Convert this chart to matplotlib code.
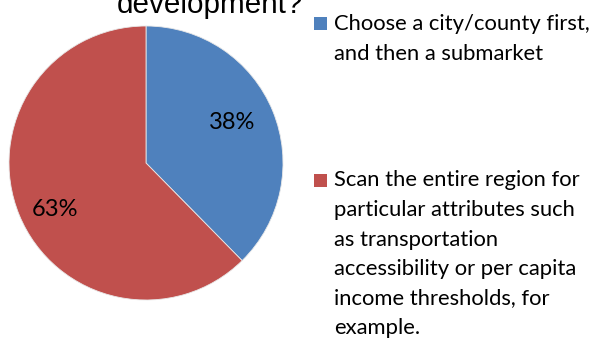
import matplotlib
matplotlib.use("Agg")
import numpy as np
import matplotlib.pyplot as plt
from matplotlib.patches import Rectangle

# Survey answers (percent of respondents)
categories = [
    "Choose a city/county first,\nand then a submarket",
    "Scan the entire region for\nparticular attributes such\nas transportation\naccessibility or per capita\nincome thresholds, for\nexample.",
]
values = [38, 63]
colors = ["#4F81BD", "#C0504D"]
title_text = "development?"

W, H = 595, 343
FONT = ["Lato", "DejaVu Sans"]
TITLE_FONT = ["Liberation Sans", "DejaVu Sans"]

fig = plt.figure(figsize=(W / 100, H / 100), dpi=100)
fig.patch.set_facecolor("white")


def fx(x):
    return x / W


def fy(y):
    return 1 - y / H


# Pie
ax = fig.add_axes([fx(9), fy(300), 274 / W, 274 / H])
wedges, _ = ax.pie(
    values,
    colors=colors,
    startangle=90,
    counterclock=False,
    radius=1,
    wedgeprops=dict(edgecolor="#e8e8e8", linewidth=0.6),
)
# Percentage labels inside the slices
for w, v, dist in zip(wedges, values, [0.70, 0.74]):
    mid = np.deg2rad((w.theta1 + w.theta2) / 2 + 4)
    ax.text(dist * np.cos(mid), dist * np.sin(mid), f"{v}%",
            ha="center", va="center_baseline", fontsize=17,
            family=FONT, color="black")
ax.set_xlim(-1.0, 1.0)
ax.set_ylim(-1.0, 1.0)
ax.set_aspect("equal")
ax.axis("off")

# Title (only its last line fits inside the canvas)
fig.text(fx(210), fy(12.7), title_text, ha="center", va="baseline",
         fontsize=21.3, family=TITLE_FONT, color="black")

# Legend drawn by hand
entry_tops = [30, 186.5]
step = 29.5
for label, color, base in zip(categories, colors, entry_tops):
    fig.patches.append(Rectangle((fx(314), fy(base)), 13 / W, 13 / H,
                                 transform=fig.transFigure,
                                 facecolor=color, edgecolor="none"))
    for i, line in enumerate(label.split("\n")):
        fig.text(fx(334), fy(base + i * step), line, ha="left", va="baseline",
                 fontsize=15.8, family=FONT, color="black")

fig.savefig("out.png", dpi=100)
